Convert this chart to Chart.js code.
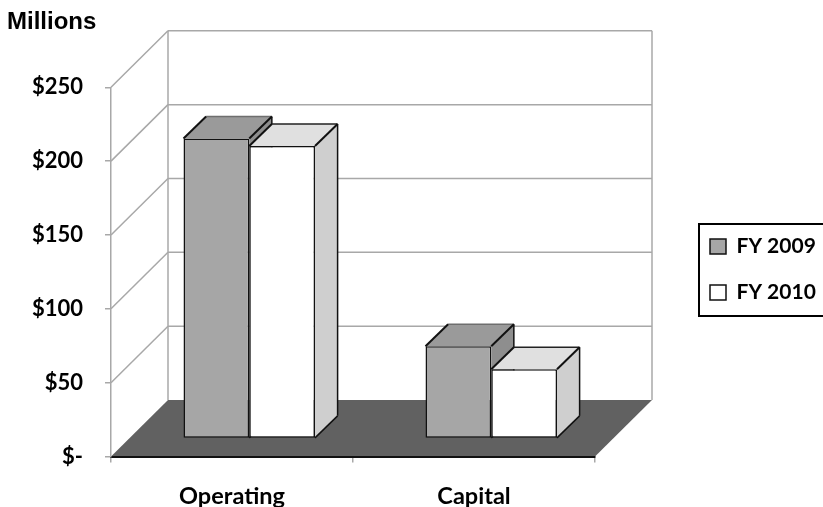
<!DOCTYPE html>
<html>
<head>
<meta charset="utf-8">
<title>Operating and Capital</title>
<script src="https://cdn.jsdelivr.net/npm/chart.js@4"></script>
<style>
  html, body { margin: 0; background: #fff; }
  canvas { display: block; }
</style>
</head>
<body>
<canvas id="chart" width="823" height="507"></canvas>
<script>
const categories = ["Operating", "Capital"];
const fy2009 = [203.2, 62.5];
const fy2010 = [198.1, 47];
const tickLabels = ["$-", "$50", "$100", "$150", "$200", "$250"];

const GRID = "#a8a8a8";
const FLOOR = "#616161";
const EDGE = "#111";
const FONT = "Lato";

// 3d look: how far the back wall and the bars sit behind the front axis plane
const WALL = { dx: 57, dy: -56.5 };
const BAR_SHIFT = { dx: 17.25, dy: -17.9 };
const BAR_DEPTH = { dx: 22.6, dy: -22 };
const FACES = [
  { top: "#9a9a9a", side: "#8e8e8e", back: "#6e6e6e" },
  { top: "#e0e0e0", side: "#cfcfcf", back: "#222" },
];

function poly(ctx, pts, fill) {
  ctx.beginPath();
  pts.forEach((p, i) => (i ? ctx.lineTo(p[0], p[1]) : ctx.moveTo(p[0], p[1])));
  ctx.closePath();
  ctx.fillStyle = fill;
  ctx.fill();
}

function line(ctx, x1, y1, x2, y2, color, width) {
  ctx.beginPath();
  ctx.moveTo(x1, y1);
  ctx.lineTo(x2, y2);
  ctx.strokeStyle = color;
  ctx.lineWidth = width;
  ctx.stroke();
}

const box3d = {
  id: "box3d",
  afterLayout(chart) {
    // legend and title sit where the original has them, not where the layout puts them
    const lg = chart.legend;
    lg.left = 685; lg.top = 211; lg.right = 823; lg.bottom = 400;
    chart.titleBlock.left = 7;
  },
  beforeDraw(chart) {
    const { ctx, chartArea: a, scales: { y } } = chart;
    ctx.save();
    const zero = y.getPixelForValue(0);
    const top = y.getPixelForValue(y.max);
    poly(ctx, [
      [a.left, zero], [a.right, zero],
      [a.right + WALL.dx, zero + WALL.dy], [a.left + WALL.dx, zero + WALL.dy],
    ], FLOOR);
    y.ticks.forEach(t => {
      const py = y.getPixelForValue(t.value);
      if (t.value > 0) {
        line(ctx, a.left + WALL.dx, py + WALL.dy, a.right + WALL.dx, py + WALL.dy, GRID, 1.5);
        line(ctx, a.left, py, a.left + WALL.dx, py + WALL.dy, GRID, 1.5);
      }
    });
    line(ctx, a.left + WALL.dx, top + WALL.dy, a.left + WALL.dx, zero + WALL.dy, GRID, 1.5);
    line(ctx, a.right + WALL.dx, top + WALL.dy, a.right + WALL.dx, zero + WALL.dy, GRID, 1.5);
    ctx.restore();
  },
  beforeDatasetsDraw(chart) {
    const { ctx } = chart;
    ctx.save();
    ctx.translate(BAR_SHIFT.dx, BAR_SHIFT.dy);
    const d = BAR_DEPTH;
    chart.data.datasets.forEach((ds, di) => {
      const face = FACES[di];
      chart.getDatasetMeta(di).data.forEach(bar => {
        const l = bar.x - bar.width / 2;
        const r = bar.x + bar.width / 2;
        const t = bar.y;
        const b = bar.base;
        poly(ctx, [[r, t], [r + d.dx, t + d.dy], [r + d.dx, b + d.dy], [r, b]], face.side);
        poly(ctx, [[l, t], [l + d.dx, t + d.dy], [r + d.dx, t + d.dy], [r, t]], face.top);
        line(ctx, l + d.dx, t + d.dy, r + d.dx, t + d.dy, face.back, 1.5);
        line(ctx, l, t, l + d.dx, t + d.dy, EDGE, 2);
        line(ctx, r, t, r + d.dx, t + d.dy, EDGE, 2);
        line(ctx, r + d.dx, t + d.dy, r + d.dx, b + d.dy, EDGE, 1.5);
        line(ctx, r, b, r + d.dx, b + d.dy, EDGE, 1.5);
      });
    });
  },
  afterDatasetsDraw(chart) {
    chart.ctx.restore();
  },
  afterDraw(chart) {
    const { ctx } = chart;
    ctx.save();
    ctx.strokeStyle = "#000";
    ctx.lineWidth = 2;
    ctx.strokeRect(699, 224, 126, 92);
    ctx.restore();
  },
};

new Chart(document.getElementById("chart"), {
  type: "bar",
  data: {
    labels: categories,
    datasets: [
      { label: "FY 2009", data: fy2009, backgroundColor: "#a6a6a6", borderColor: EDGE, borderWidth: 1.5, borderSkipped: false },
      { label: "FY 2010", data: fy2010, backgroundColor: "#ffffff", borderColor: EDGE, borderWidth: 1.5, borderSkipped: false },
    ],
  },
  plugins: [box3d],
  options: {
    responsive: false,
    animation: false,
    layout: { padding: { right: 228 } },
    datasets: { bar: { barPercentage: 1, categoryPercentage: 0.5434 } },
    plugins: {
      tooltip: { enabled: false },
      title: {
        display: true,
        text: "Millions",
        align: "start",
        color: "#000",
        font: { family: "Liberation Sans", size: 24, weight: "bold" },
        padding: { top: 8, bottom: 50.5 },
      },
      legend: {
        position: "chartArea",
        align: "start",
        onClick: null,
        labels: {
          boxWidth: 16,
          boxHeight: 15,
          padding: 25,
          color: "#000",
          font: { family: FONT, size: 21, weight: "bold" },
        },
      },
    },
    scales: {
      x: {
        afterFit: s => { s.height = 50.5; },
        grid: { drawOnChartArea: false, color: GRID, lineWidth: 1.5, tickLength: 6 },
        border: { color: "#111", width: 2 },
        ticks: { color: "#000", padding: 20, maxRotation: 0, font: { family: FONT, size: 23.5, weight: "bold" } },
      },
      y: {
        min: 0,
        max: 250,
        afterFit: s => { s.width = 111; },
        grid: { drawOnChartArea: false, color: GRID, lineWidth: 1.5, tickLength: 6 },
        border: { color: GRID, width: 1.5 },
        ticks: {
          stepSize: 50,
          padding: 22,
          color: "#000",
          font: { family: FONT, size: 22, weight: "bold" },
          callback: (v, i) => tickLabels[i],
        },
      },
    },
  },
});
</script>
</body>
</html>
